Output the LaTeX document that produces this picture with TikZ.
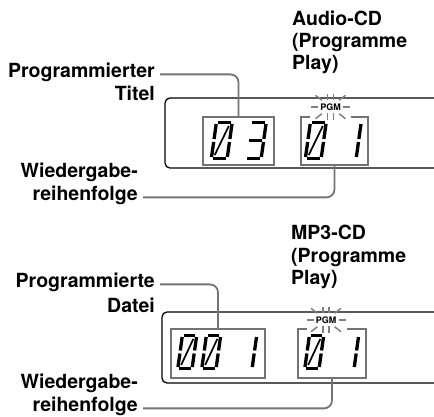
\documentclass[tikz,border=0pt]{standalone}
\usepackage{fontspec}
\setmainfont{TeX Gyre Heros}
\newfontfamily\lblface{TeX Gyre Heros}
\newcommand{\lblfont}{\lblface\bfseries\fontsize{19.5}{22}\selectfont}
\newcommand{\digw}{19}
\newcommand{\digh}{39}
% one segment of an LCD digit, a-g as usual, h = slash of the zero
\newcommand{\lcdseg}[1]{%
  \if#1a\draw[seg] (3,1.6) -- (\digw-3,1.6);\fi
  \if#1b\draw[seg] (\digw-1.6,3) -- (\digw-1.6,\digh/2-1.5);\fi
  \if#1c\draw[seg] (\digw-1.6,\digh/2+1.5) -- (\digw-1.6,\digh-3);\fi
  \if#1d\draw[seg] (3,\digh-1.6) -- (\digw-3,\digh-1.6);\fi
  \if#1e\draw[seg] (1.6,\digh/2+1.5) -- (1.6,\digh-3);\fi
  \if#1f\draw[seg] (1.6,3) -- (1.6,\digh/2-1.5);\fi
  \if#1g\draw[seg] (3,\digh/2) -- (\digw-3,\digh/2);\fi
  \if#1h\draw[seg,line width=1.7pt] (\digw-4.5,5) -- (4.5,\digh-5);\fi}
\newcommand{\lcddigit}[3]{%
  \begin{scope}[shift={(#1,#2)},xslant=0.14]
    \foreach \s in {#3} {\lcdseg{\s}}
  \end{scope}}
\newcommand{\lcdzero}[2]{\lcddigit{#1}{#2}{a,b,c,d,e,f,h}}
\newcommand{\lcdthree}[2]{\lcddigit{#1}{#2}{a,b,c,d,g}}
\newcommand{\lcdone}[2]{\lcddigit{#1}{#2}{b,c}}

\begin{document}
\begin{tikzpicture}[x=1pt,y=-1pt,
  lbl/.style={font=\lblfont,inner sep=0pt},
  panel/.style={line width=1.3pt,rounded corners=5pt},
  digarea/.style={inner sep=0pt,outer sep=0pt},
  boxline/.style={draw=black!55,line width=2.4pt},
  leader/.style={draw=black!55,line width=1.8pt,rounded corners=8pt},
  seg/.style={line width=3.3pt},
  ray/.style={draw=black!50,line width=1.5pt},
  pgm/.style={font=\lblface\bfseries\fontsize{9}{10}\selectfont,inner sep=0pt}]
  \useasboundingbox (0,0) rectangle (434,416);

  % Audio-CD
  \node[lbl,anchor=base west] (cdA1) at (292,25) {Audio-CD};
  \node[lbl,anchor=base west] (cdA2) at (292,47) {(Programme};
  \node[lbl,anchor=base west] (cdA3) at (292,69) {Play)};

  \draw[panel] (434,98) -- (165,98) -- (165,168) -- (434,168);

  \node[digarea,boxline,draw,minimum width=71pt,minimum height=48pt] (dispA) at (238.5,141) {};
  \node[digarea,minimum width=67pt,minimum height=48pt] (dispB) at (334.5,141) {};
  \node[pgm] (pgmA) at (330.5,107) {PGM};
  \coordinate (gapAl) at ([xshift=-20.5pt]pgmA.center);
  \coordinate (gapAr) at ([xshift=20.5pt]pgmA.center);
  \draw[boxline] (gapAr |- dispB.north) -| (dispB.south east) -| (dispB.north west) -- (gapAl |- dispB.north);

  \lcdzero{215}{121}
  \lcdthree{249}{121}
  \lcdzero{309}{121}
  \lcdone{344}{121}

  \node[lbl,anchor=base east] (progA) at (155,77) {Programmierter};
  \node[lbl,anchor=base east] (titel) at (155,100) {Titel};
  \node[lbl,anchor=base east] (wiedA) at (138,177) {Wiedergabe-};
  \node[lbl,anchor=base east] (reihA) at (138,200) {reihenfolge};
  \draw[leader] ([xshift=5pt]progA.mid east) -| (dispA.north);
  \draw[leader] ([xshift=5pt]reihA.mid east) -| (dispB.south);

  % MP3-CD
  \node[lbl,anchor=base west] (cdB1) at (291,239) {MP3-CD};
  \node[lbl,anchor=base west] (cdB2) at (291,262) {(Programme};
  \node[lbl,anchor=base west] (cdB3) at (291,284) {Play)};

  \draw[panel] (434,312) -- (162,312) -- (162,383) -- (434,383);

  \node[digarea,boxline,draw,minimum width=94pt,minimum height=49pt] (dispC) at (218,353.5) {};
  \node[digarea,minimum width=68pt,minimum height=49pt] (dispD) at (332,353.5) {};
  \node[pgm] (pgmB) at (326,320) {PGM};
  \coordinate (gapBl) at ([xshift=-19pt]pgmB.center);
  \coordinate (gapBr) at ([xshift=21pt]pgmB.center);
  \draw[boxline] (gapBr |- dispD.north) -| (dispD.south east) -| (dispD.north west) -- (gapBl |- dispD.north);

  \renewcommand{\digw}{17.5}
  \renewcommand{\digh}{36}
  \lcdzero{181}{334}
  \lcdzero{205}{334}
  \lcdone{241}{334}
  \lcdzero{308}{334}
  \lcdone{343}{334}

  \node[lbl,anchor=base east] (progB) at (155,287) {Programmierte};
  \node[lbl,anchor=base east] (datei) at (155,312) {Datei};
  \node[lbl,anchor=base east] (wiedB) at (138,388) {Wiedergabe-};
  \node[lbl,anchor=base east] (reihB) at (138,411) {reihenfolge};
  \draw[leader] ([xshift=5pt]progB.mid east) -| (dispC.north);
  \draw[leader] ([xshift=5pt]reihB.mid east) -| (dispD.south);

  % blinking marks round PGM
  \foreach \p in {pgmA,pgmB}{
    \foreach \a in {38,142,218,322}
      \draw[ray] (\p.center) ++(\a:11pt) -- ++(\a:8pt);
    \foreach \k in {-1,1}{
      \draw[ray] ([xshift=\k*12.5pt]\p.center) -- ++(\k*7pt,0pt);
      \draw[ray] ([xshift=\k*3pt,yshift=7pt]\p.center) -- ++(0pt,6.5pt);
      \draw[ray] ([xshift=\k*3pt,yshift=-6pt]\p.center) -- ++(0pt,-6.5pt);
    }
  }
\end{tikzpicture}
\end{document}
